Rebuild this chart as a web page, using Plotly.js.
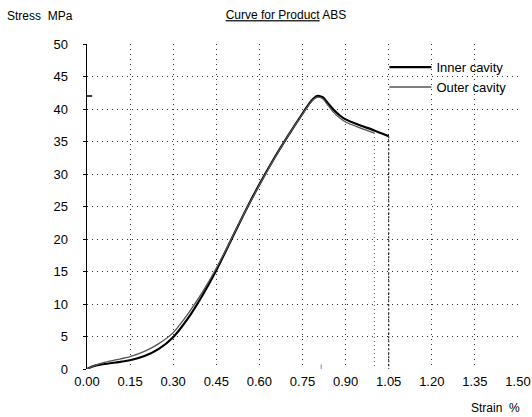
<!DOCTYPE html>
<html>
<head>
<meta charset="utf-8">
<script src="https://cdn.plot.ly/plotly-3.0.1.min.js"></script>
<style>html,body{margin:0;padding:0;background:#fff;}#chart{width:532px;height:417px;}</style>
</head>
<body>
<div id="chart"></div>
<script>
// Inner cavity (strain %, stress MPa)
var innerStrain = [0, 0.02, 0.05, 0.10, 0.15, 0.20, 0.25, 0.30, 0.35, 0.40, 0.45, 0.50, 0.55, 0.60, 0.65, 0.70, 0.75, 0.78, 0.80, 0.82, 0.84, 0.86, 0.88, 0.90, 0.95, 1.00, 1.05];
var innerStress = [0, 0.4, 0.7, 1.0, 1.35, 2.0, 3.1, 4.9, 7.7, 11.2, 15.2, 19.7, 24.2, 28.4, 32.3, 35.9, 39.3, 41.2, 42.0, 41.8, 40.8, 39.8, 39.0, 38.4, 37.5, 36.7, 35.8];
// Outer cavity
var outerStrain = [0, 0.03, 0.06, 0.10, 0.15, 0.20, 0.25, 0.30, 0.35, 0.40, 0.45, 0.50, 0.55, 0.60, 0.65, 0.70, 0.75, 0.78, 0.80, 0.82, 0.84, 0.86, 0.88, 0.90, 0.95, 1.00];
var outerStress = [0, 0.6, 1.0, 1.4, 1.9, 2.7, 3.9, 5.6, 8.4, 11.7, 15.5, 19.8, 24.2, 28.3, 32.2, 35.9, 39.2, 41.1, 41.8, 41.6, 40.5, 39.4, 38.6, 38.0, 37.1, 36.3];
var seriesNames = ["Inner cavity", "Outer cavity"];
var xTicks = [0, 0.15, 0.30, 0.45, 0.60, 0.75, 0.90, 1.05, 1.20, 1.35, 1.50];
var xTickText = ["0.00", "0.15", "0.30", "0.45", "0.60", "0.75", "0.90", "1.05", "1.20", "1.35", "1.50"];
var yTicks = [0, 5, 10, 15, 20, 25, 30, 35, 40, 45, 50];

var FONT = "Liberation Sans, Arial, sans-serif";
function last(a){ return a[a.length-1]; }

var traces = [
  {x: innerStrain, y: innerStress, name: seriesNames[0], mode: "lines", type: "scatter",
   line: {color: "#000", width: 2.2, shape: "spline", smoothing: 0.8}},
  {x: outerStrain, y: outerStress, name: seriesNames[1], mode: "lines", type: "scatter",
   line: {color: "#555", width: 1.3, shape: "spline", smoothing: 0.8}},
  {x: [last(innerStrain), last(innerStrain)], y: [last(innerStress), 0], mode: "lines", showlegend: false,
   line: {color: "#222", width: 1.2, dash: "2px,2px"}},
  {x: [last(outerStrain), last(outerStrain)], y: [last(outerStress), 0], mode: "lines", showlegend: false,
   line: {color: "#555", width: 1, dash: "1px,3px"}}
];

var peak = Math.max.apply(null, innerStress);
var peakX = innerStrain[innerStress.indexOf(peak)];

var layout = {
  width: 532, height: 417,
  paper_bgcolor: "#fff", plot_bgcolor: "#fff",
  margin: {l: 87, r: 14, t: 44, b: 48},
  font: {family: FONT, size: 12, color: "#000"},
  showlegend: true,
  legend: {x: 0.69, y: 0.975, xanchor: "left", yanchor: "top", bgcolor: "rgba(0,0,0,0)", itemwidth: 42,
           font: {family: FONT, size: 13, color: "#000"}, tracegroupgap: 4, traceorder: "normal"},
  title: {text: "<u>Curve for Product</u> ABS", font: {family: FONT, size: 12, color: "#000"},
          xref: "container", yref: "container", x: 286/532, xanchor: "center", y: 1 - 15/417, yanchor: "middle"},
  xaxis: {range: [0, 1.5], tickvals: xTicks, ticktext: xTickText, showgrid: true, gridcolor: "#333", griddash: "1px,4px",
          gridwidth: 1, zeroline: false, showline: false, ticks: "", ticklabelstandoff: 3,
          tickfont: {family: FONT, size: 13}, fixedrange: true},
  yaxis: {range: [0, 50], tickvals: yTicks, showgrid: true, gridcolor: "#333", griddash: "1px,4px", gridwidth: 1,
          zeroline: false, showline: true, linecolor: "#000", linewidth: 1.5, ticks: "outside", ticklen: 3,
          tickcolor: "#000", ticklabelstandoff: 12, tickfont: {family: FONT, size: 13}, fixedrange: true},
  annotations: [
    {text: "Stress  MPa", xref: "paper", yref: "paper", x: -0.19, y: 1.086, xanchor: "left", yanchor: "middle",
     showarrow: false, font: {family: FONT, size: 12}},
    {text: "Strain  %", xref: "paper", yref: "paper", x: 1.01, y: -0.12, xanchor: "right", yanchor: "middle",
     showarrow: false, font: {family: FONT, size: 12}}
  ],
  shapes: [
    {type: "line", xref: "paper", yref: "y", x0: 0, x1: 0.012, y0: peak, y1: peak, line: {color: "#000", width: 1.5}},
    {type: "line", xref: "x", yref: "y", x0: peakX + 0.015, x1: peakX + 0.015, y0: 0, y1: 0.7, line: {color: "#888", width: 1}}
  ]
};

Plotly.newPlot("chart", traces, layout, {displayModeBar: false, staticPlot: true});
</script>
</body>
</html>
